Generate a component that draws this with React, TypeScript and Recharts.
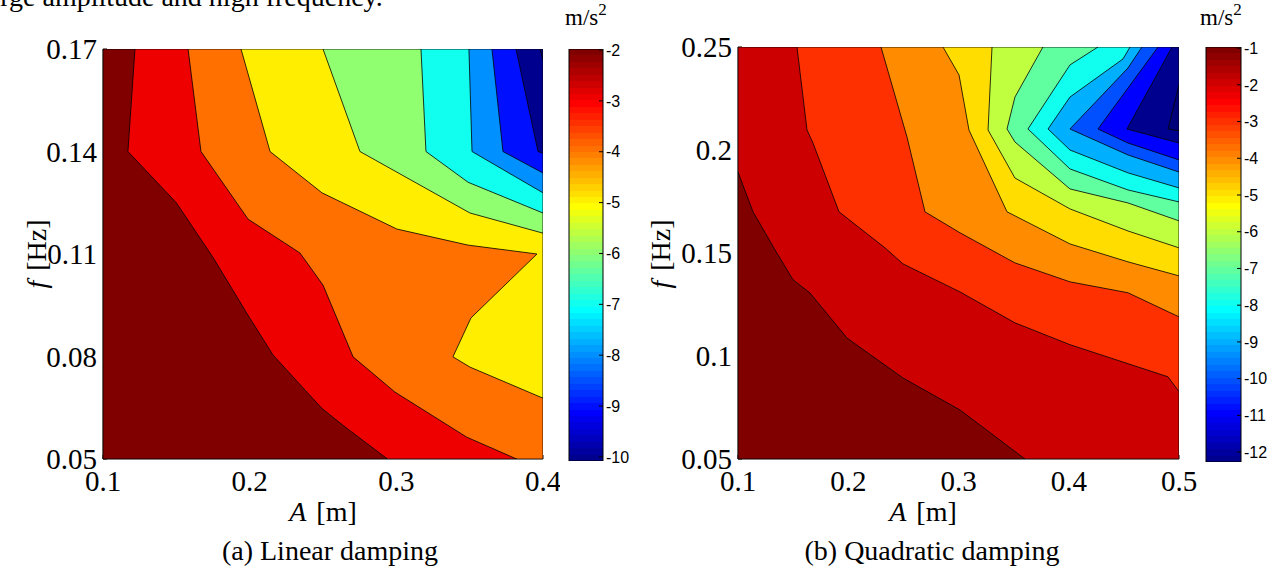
import React from 'react';
import { ComposedChart, Scatter, XAxis, YAxis, Bar } from 'recharts';

const SERIF = '"Liberation Serif", "Times New Roman", Times, serif';
const SANS = '"Liberation Sans", Arial, Helvetica, sans-serif';

type P = [number, number];

// ---------- Panel (a): linear damping ----------
const aXDomain: P = [0.1, 0.4];
const aYDomain: P = [0.05, 0.17];
const aXTicks = [0.1, 0.2, 0.3, 0.4];
const aYTicks = [0.05, 0.08, 0.11, 0.14, 0.17];

const aTip: P[] = [[0.398, 0.17], [0.4, 0.17], [0.4, 0.1668]];
const aL8: P[] = [[0.3816, 0.17], [0.3966, 0.14], [0.4, 0.1395]];
const aL7: P[] = [[0.3652, 0.17], [0.3727, 0.14], [0.4, 0.1337]];
const aL6: P[] = [[0.3495, 0.17], [0.3516, 0.14], [0.4, 0.1279]];
const aL5: P[] = [[0.3168, 0.17], [0.3202, 0.14], [0.3489, 0.131], [0.4, 0.122]];
const aL4: P[] = [[0.25, 0.17], [0.2752, 0.14], [0.3502, 0.122], [0.4, 0.1161]];
const aL3: P[] = [
  [0.1941, 0.17], [0.2139, 0.14], [0.2493, 0.1279], [0.3004, 0.1173], [0.3489, 0.1126],
  [0.3959, 0.11], [0.3509, 0.0913], [0.3386, 0.0799], [0.3502, 0.0769], [0.4, 0.0678],
];
const aL2: P[] = [
  [0.158, 0.17], [0.1668, 0.14], [0.1989, 0.1202], [0.2343, 0.1103], [0.25, 0.1009],
  [0.2705, 0.0799], [0.299, 0.0696], [0.348, 0.0564], [0.382, 0.05],
];
const aL1: P[] = [
  [0.1218, 0.17], [0.117, 0.14], [0.15, 0.125], [0.175, 0.109], [0.2, 0.0913],
  [0.216, 0.0804], [0.249, 0.0649], [0.265, 0.0594], [0.294, 0.05],
];
const aColors = ['#00008F', '#00007A', '#0010FF', '#0090FF', '#10FFEE', '#90FF70', '#FFEE00', '#FF7000', '#EE0000', '#800000'];

// ---------- Panel (b): quadratic damping ----------
const bXDomain: P = [0.1, 0.5];
const bYDomain: P = [0.05, 0.25];
const bXTicks = [0.1, 0.2, 0.3, 0.4, 0.5];
const bYTicks = [0.05, 0.1, 0.15, 0.2, 0.25];

const bTip: P[] = [[0.5, 0.2316], [0.49, 0.2102], [0.5, 0.2093]];
const bM11: P[] = [[0.4937, 0.25], [0.4528, 0.2102], [0.5, 0.2034]];
const bM10: P[] = [[0.481, 0.25], [0.4265, 0.2102], [0.4537, 0.2034], [0.5, 0.1952]];
const bM9: P[] = [[0.4664, 0.25], [0.4537, 0.2398], [0.4011, 0.2102], [0.4537, 0.1976], [0.5, 0.1893]];
const bM8: P[] = [[0.4556, 0.25], [0.4492, 0.2442], [0.4011, 0.2257], [0.3812, 0.2102], [0.4011, 0.2], [0.4537, 0.1889], [0.5, 0.1816]];
const bM7: P[] = [[0.4265, 0.25], [0.4011, 0.2413], [0.363, 0.2102], [0.4011, 0.1908], [0.4537, 0.1806], [0.5, 0.1748]];
const bM6: P[] = [[0.3766, 0.25], [0.3512, 0.2257], [0.344, 0.2102], [0.3512, 0.2039], [0.4011, 0.1811], [0.4537, 0.1743], [0.5, 0.1656]];
const bM5: P[] = [[0.3304, 0.25], [0.3268, 0.2097], [0.3512, 0.1864], [0.4011, 0.1714], [0.4537, 0.1607], [0.5, 0.1525]];
const bM4: P[] = [[0.2859, 0.25], [0.3005, 0.2364], [0.3095, 0.2097], [0.344, 0.17], [0.4011, 0.1544], [0.4537, 0.1457], [0.5, 0.1389]];
const bM3: P[] = [[0.2297, 0.25], [0.2533, 0.2063], [0.2696, 0.17], [0.3014, 0.1598], [0.3512, 0.1452], [0.4011, 0.136], [0.4537, 0.1307], [0.5, 0.119]];
const bM2: P[] = [
  [0.1535, 0.25], [0.1626, 0.2097], [0.168, 0.2034], [0.1916, 0.17], [0.2333, 0.1525], [0.2497, 0.1447],
  [0.3014, 0.1311], [0.3512, 0.1161], [0.4011, 0.1055], [0.49, 0.0899], [0.5, 0.0827],
];
const bM1: P[] = [
  [0.1, 0.1893], [0.1136, 0.17], [0.1336, 0.1515], [0.1499, 0.137], [0.1653, 0.1306],
  [0.1989, 0.1087], [0.2497, 0.0893], [0.3014, 0.0738], [0.3603, 0.05],
];
const bColors = ['#00008F', '#00007A', '#0000FF', '#0050FF', '#00B0FF', '#10FFEF', '#60FFA0', '#C0FF40', '#FFDD00', '#FF8C00', '#FF3000', '#CC0000', '#800000'];

// ---------- colour bars ----------
const cbADomain: P = [-10.08, -1.98];
const cbATicks = [-2, -3, -4, -5, -6, -7, -8, -9, -10];
const cbBDomain: P = [-12.27, -0.97];
const cbBTicks = [-1, -2, -3, -4, -5, -6, -7, -8, -9, -10, -11, -12];

// ---------- helpers ----------
type Pt = { x: number; y: number };
const toPts = (arr: P[]): Pt[] => arr.map(([x, y]) => ({ x, y }));

// region below-left of a contour line, closed through the plot's corners
function closeRegion(line: P[], xd: P, yd: P, kind: 'right' | 'bottom' | 'left-bottom' | 'full' | 'closed'): Pt[] {
  const [x0, x1] = xd;
  const [y0, y1] = yd;
  let pts: P[];
  if (kind === 'full') pts = [[x0, y0], [x1, y0], [x1, y1], [x0, y1], [x0, y0]];
  else if (kind === 'closed') pts = [...line, line[0]];
  else if (kind === 'right') pts = [...line, [x1, y0], [x0, y0], [x0, y1], line[0]];
  else if (kind === 'bottom') pts = [...line, [x0, y0], [x0, y1], line[0]];
  else pts = [...line, [x0, y0], line[0]];
  return toPts(pts);
}

const aLayers = [
  closeRegion([], aXDomain, aYDomain, 'full'),
  closeRegion(aTip, aXDomain, aYDomain, 'closed'),
  closeRegion(aL8, aXDomain, aYDomain, 'right'),
  closeRegion(aL7, aXDomain, aYDomain, 'right'),
  closeRegion(aL6, aXDomain, aYDomain, 'right'),
  closeRegion(aL5, aXDomain, aYDomain, 'right'),
  closeRegion(aL4, aXDomain, aYDomain, 'right'),
  closeRegion(aL3, aXDomain, aYDomain, 'right'),
  closeRegion(aL2, aXDomain, aYDomain, 'bottom'),
  closeRegion(aL1, aXDomain, aYDomain, 'bottom'),
].map((pts, i) => ({ pts, color: aColors[i] }));

const bLayers = [
  closeRegion([], bXDomain, bYDomain, 'full'),
  closeRegion(bTip, bXDomain, bYDomain, 'closed'),
  closeRegion(bM11, bXDomain, bYDomain, 'right'),
  closeRegion(bM10, bXDomain, bYDomain, 'right'),
  closeRegion(bM9, bXDomain, bYDomain, 'right'),
  closeRegion(bM8, bXDomain, bYDomain, 'right'),
  closeRegion(bM7, bXDomain, bYDomain, 'right'),
  closeRegion(bM6, bXDomain, bYDomain, 'right'),
  closeRegion(bM5, bXDomain, bYDomain, 'right'),
  closeRegion(bM4, bXDomain, bYDomain, 'right'),
  closeRegion(bM3, bXDomain, bYDomain, 'right'),
  closeRegion(bM2, bXDomain, bYDomain, 'right'),
  closeRegion(bM1, bXDomain, bYDomain, 'left-bottom'),
].map((pts, i) => ({ pts, color: bColors[i] }));

// MATLAB jet(64) colormap
function jet64(): string[] {
  const m = 64, n = 16;
  const u: number[] = [];
  for (let i = 1; i <= n; i++) u.push(i / n);
  for (let i = 0; i < n - 1; i++) u.push(1);
  for (let i = n; i >= 1; i--) u.push(i / n);
  const gStart = Math.ceil(n / 2) - (m % 4 === 1 ? 1 : 0);
  const R = new Array(m).fill(0), G = new Array(m).fill(0), B = new Array(m).fill(0);
  u.forEach((v, i) => {
    const g = gStart + i + 1;
    const r = g + n;
    const b = g - n;
    if (g >= 1 && g <= m) G[g - 1] = v;
    if (r >= 1 && r <= m) R[r - 1] = v;
    if (b >= 1 && b <= m) B[b - 1] = v;
  });
  const h = (v: number) => Math.round(v * 255).toString(16).padStart(2, '0');
  return R.map((_, i) => `#${h(R[i])}${h(G[i])}${h(B[i])}`);
}
const JET = jet64();

const NoDot = () => <g />;

const tickStyle = { fontSize: 29, fill: '#000', fontFamily: SERIF };

function ContourPanel(props: {
  layers: { pts: Pt[]; color: string }[];
  xd: P; yd: P; xt: number[]; yt: number[];
  width: number; height: number;
  margin: { top: number; right: number; bottom: number; left: number };
}) {
  const { layers, xd, yd, xt, yt, width, height, margin } = props;
  return (
    <ComposedChart width={width} height={height} margin={margin}>
      {layers.map((l, i) => (
        <Scatter
          key={i}
          xAxisId="b"
          yAxisId="l"
          data={l.pts}
          line={{ fill: l.color, stroke: '#000', strokeWidth: 0.8 }}
          lineType="joint"
          shape={NoDot}
          isAnimationActive={false}
        />
      ))}
      <XAxis xAxisId="b" type="number" dataKey="x" domain={xd} ticks={xt} interval={0}
        allowDataOverflow height={30} tickSize={-4} tickMargin={15}
        stroke="#000" axisLine={{ stroke: '#000', strokeWidth: 1.2 }} tickLine={{ stroke: '#000' }} tick={tickStyle} />
      <XAxis xAxisId="t" orientation="top" type="number" domain={xd} ticks={xt} interval={0}
        allowDataOverflow height={0} tickSize={-4} tickFormatter={() => ''}
        axisLine={{ stroke: '#000', strokeWidth: 1.2 }} tickLine={{ stroke: '#000' }} />
      <YAxis yAxisId="l" type="number" dataKey="y" domain={yd} ticks={yt} interval={0}
        allowDataOverflow width={60} tickSize={-4} tickMargin={10}
        axisLine={{ stroke: '#000', strokeWidth: 1.2 }} tickLine={{ stroke: '#000' }} tick={tickStyle} />
      <YAxis yAxisId="r" orientation="right" type="number" domain={yd} ticks={yt} interval={0}
        allowDataOverflow width={0} tickSize={-4} tickFormatter={() => ''}
        axisLine={{ stroke: '#000', strokeWidth: 1.2 }} tickLine={{ stroke: '#000' }} />
    </ComposedChart>
  );
}

function ColorBar(props: {
  id: string; domain: P; ticks: number[]; width: number; height: number; rightWidth: number;
  margin: { top: number; right: number; bottom: number; left: number };
}) {
  const { id, domain, ticks, width, height, margin, rightWidth } = props;
  const data = [{ k: 'cb', range: domain }];
  return (
    <ComposedChart width={width} height={height} margin={margin} data={data} barCategoryGap={0}>
      <defs>
        <linearGradient id={id} x1="0" y1="1" x2="0" y2="0">
          {JET.map((c, i) => [
            <stop key={`a${i}`} offset={i / 64} stopColor={c} />,
            <stop key={`b${i}`} offset={(i + 1) / 64} stopColor={c} />,
          ])}
        </linearGradient>
      </defs>
      <XAxis dataKey="k" hide />
      <Bar yAxisId="r" dataKey="range" fill={`url(#${id})`} stroke="#000" strokeWidth={1} isAnimationActive={false} />
      <YAxis yAxisId="l" type="number" domain={domain} ticks={ticks} interval={0} allowDataOverflow
        width={0} tickSize={-4} tickFormatter={() => ''} axisLine={false} tickLine={{ stroke: '#000' }} />
      <YAxis yAxisId="r" orientation="right" type="number" domain={domain} ticks={ticks} interval={0} allowDataOverflow
        width={rightWidth} tickSize={-4} tickMargin={7} axisLine={false} tickLine={{ stroke: '#000' }}
        tick={{ fontSize: 16, fill: '#000', fontFamily: SANS }} />
    </ComposedChart>
  );
}

export default function App() {
  const abs = (left: number): React.CSSProperties => ({ position: 'absolute', left, top: 0 });
  return (
    <div style={{ position: 'absolute', left: 0, top: 0, width: 1275, height: 569, background: '#fff', overflow: 'hidden' }}>
      <div style={abs(0)}>
        <ContourPanel layers={aLayers} xd={aXDomain} yd={aYDomain} xt={aXTicks} yt={aYTicks}
          width={560} height={569} margin={{ top: 49, right: 17, bottom: 80, left: 43 }} />
      </div>
      <div style={abs(550)}>
        <ColorBar id="jetA" domain={cbADomain} ticks={cbATicks} width={100} height={569} rightWidth={40}
          margin={{ top: 49, right: 7, bottom: 108, left: 19 }} />
      </div>
      <div style={abs(640)}>
        <ContourPanel layers={bLayers} xd={bXDomain} yd={bYDomain} xt={bXTicks} yt={bYTicks}
          width={560} height={569} margin={{ top: 47, right: 21, bottom: 80, left: 38 }} />
      </div>
      <div style={abs(1190)}>
        <ColorBar id="jetB" domain={cbBDomain} ticks={cbBTicks} width={85} height={569} rightWidth={30}
          margin={{ top: 47, right: 4, bottom: 107, left: 16 }} />
      </div>
      <svg width={1275} height={569} style={{ position: 'absolute', left: 0, top: 0, pointerEvents: 'none' }}
        fontFamily={SERIF} fill="#000">
        <text x={-20} y={6} fontSize={28}>large amplitude and high frequency.</text>
        {/* panel (a) labels */}
        <text x={323} y={521} fontSize={28} textAnchor="middle">
          <tspan fontStyle="italic">A</tspan><tspan dx={10}>[m]</tspan>
        </text>
        <text x={330} y={560} fontSize={28} textAnchor="middle">(a) Linear damping</text>
        <text x={46} y={254} fontSize={28} textAnchor="middle" transform="rotate(-90 46 254)">
          <tspan fontStyle="italic">f</tspan><tspan dx={10}>[Hz]</tspan>
        </text>
        <text x={565} y={25} fontSize={23}>m/s<tspan fontSize={17} dy={-10}>2</tspan></text>
        {/* panel (b) labels */}
        <text x={923} y={521} fontSize={28} textAnchor="middle">
          <tspan fontStyle="italic">A</tspan><tspan dx={10}>[m]</tspan>
        </text>
        <text x={932} y={560} fontSize={28} textAnchor="middle">(b) Quadratic damping</text>
        <text x={670} y={254} fontSize={28} textAnchor="middle" transform="rotate(-90 670 254)">
          <tspan fontStyle="italic">f</tspan><tspan dx={10}>[Hz]</tspan>
        </text>
        <text x={1200} y={25} fontSize={23}>m/s<tspan fontSize={17} dy={-10}>2</tspan></text>
      </svg>
    </div>
  );
}
